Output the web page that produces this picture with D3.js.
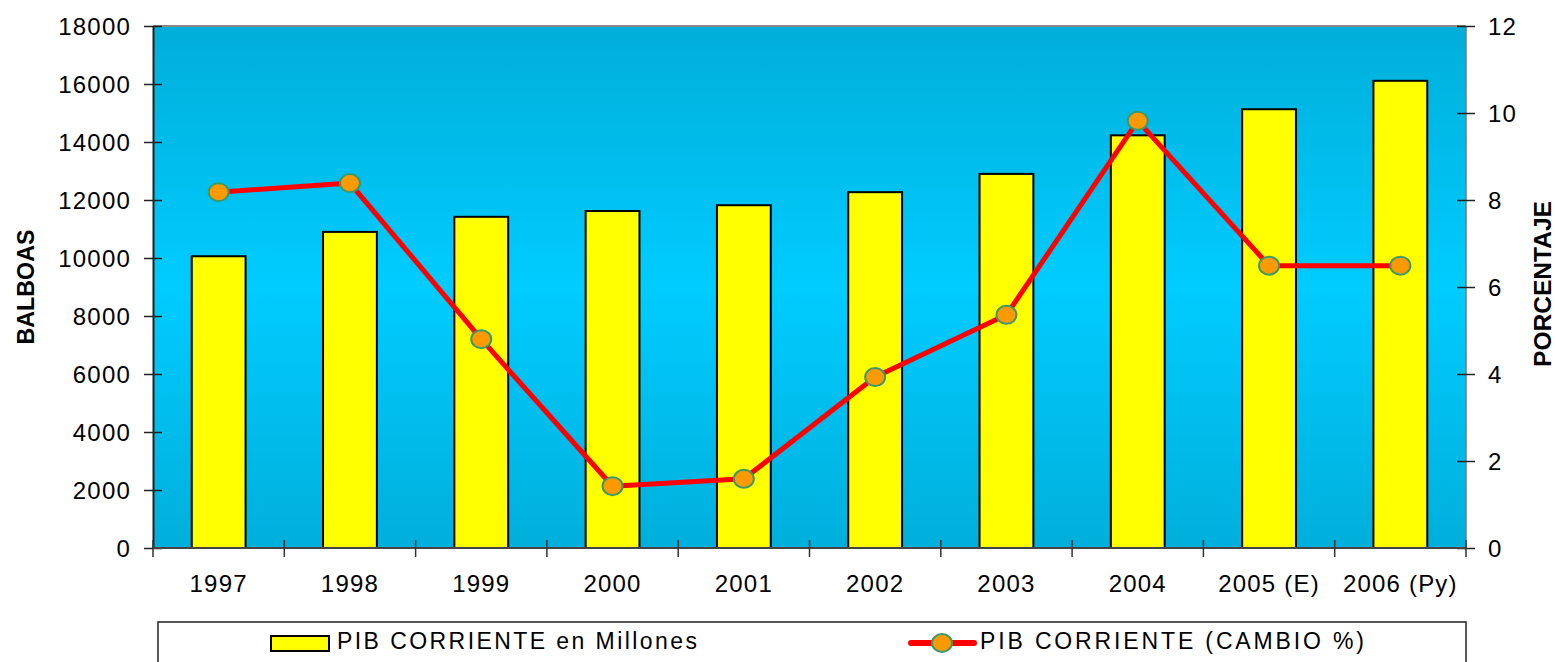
<!DOCTYPE html>
<html><head><meta charset="utf-8">
<script src="https://cdn.jsdelivr.net/npm/d3@7"></script>
<style>body{margin:0;background:#fff}svg{display:block}text{font-family:"Liberation Sans",Arial,sans-serif}</style>
</head><body><svg id="c" width="1555" height="662"></svg>
<script>
const categories = ["1997","1998","1999","2000","2001","2002","2003","2004","2005 (E)","2006 (Py)"];
const pibValues = [10060, 10900, 11420, 11620, 11820, 12270, 12900, 14230, 15130, 16110];
const pctValues = [8.18, 8.39, 4.80, 1.42, 1.59, 3.93, 5.36, 9.82, 6.49, 6.49];
const leftTicks = [0,2000,4000,6000,8000,10000,12000,14000,16000,18000];
const rightTicks = [0,2,4,6,8,10,12];
const barLabel = "PIB CORRIENTE en Millones";
const lineLabel = "PIB CORRIENTE (CAMBIO %)";

const svg = d3.select("#c");
const L=153, R=1466, T=26, B=548;
const x = d3.scaleBand().domain(categories).range([L,R]).paddingInner(0.59).paddingOuter(0.295);
const xb = d3.scaleBand().domain(categories).range([L,R]);
const yL = d3.scaleLinear().domain([0,18000]).range([B,T]);
const yR = d3.scaleLinear().domain([0,12]).range([B,T]);

const defs = svg.append("defs");
const g = defs.append("linearGradient").attr("id","bg").attr("x1",0).attr("y1",0).attr("x2",0).attr("y2",1);
g.append("stop").attr("offset","0%").attr("stop-color","#00aed9");
g.append("stop").attr("offset","50%").attr("stop-color","#00ccff");
g.append("stop").attr("offset","100%").attr("stop-color","#00afdb");
svg.append("rect").attr("x",L).attr("y",T).attr("width",R-L).attr("height",B-T).attr("fill","url(#bg)");

// bars
svg.selectAll("rect.bar").data(pibValues).join("rect").attr("class","bar")
  .attr("x",(d,i)=>x(categories[i])).attr("width",x.bandwidth())
  .attr("y",d=>yL(d)).attr("height",d=>B-yL(d))
  .attr("fill","#ffff00").attr("stroke","#000").attr("stroke-width",2);

// plot frame lines
svg.append("line").attr("x1",L).attr("x2",R).attr("y1",T).attr("y2",T).attr("stroke","#888").attr("stroke-width",2);
svg.append("line").attr("x1",R).attr("x2",R).attr("y1",T).attr("y2",B).attr("stroke","#777").attr("stroke-width",1.5);

// left axis
const axL = d3.axisLeft(yL).tickValues(leftTicks).tickFormat(d3.format("d")).tickSize(0).tickPadding(0);
const gL = svg.append("g").attr("transform",`translate(${L},0)`).call(axL);
gL.select(".domain").attr("stroke","#222").attr("stroke-width",2);
gL.selectAll(".tick line").remove();
gL.selectAll(".tick").append("line").attr("x1",-9).attr("x2",9).attr("stroke","#222").attr("stroke-width",1.5);
gL.selectAll(".tick text").attr("x",-22).attr("font-size",24).attr("fill","#000").style("letter-spacing","1.2px").attr("dy","0.34em");

// right axis
const axR = d3.axisRight(yR).tickValues(rightTicks).tickSize(0).tickPadding(0);
const gR = svg.append("g").attr("transform",`translate(${R},0)`).call(axR);
gR.select(".domain").remove();
gR.selectAll(".tick").append("line").attr("x1",-9).attr("x2",9).attr("stroke","#222").attr("stroke-width",1.5);
gR.selectAll(".tick text").attr("x",22).attr("font-size",24).attr("fill","#000").style("letter-spacing","1.2px").attr("dy","0.34em");

// bottom axis
svg.append("line").attr("x1",L).attr("x2",R).attr("y1",B).attr("y2",B).attr("stroke","#444").attr("stroke-width",2);
const bounds = categories.map(c=>xb(c)).concat([R]);
svg.selectAll("line.xt").data(bounds).join("line").attr("class","xt")
  .attr("x1",d=>d).attr("x2",d=>d).attr("y1",B-8).attr("y2",B+9).attr("stroke","#333").attr("stroke-width",1.5);
svg.selectAll("text.xl").data(categories).join("text").attr("class","xl")
  .attr("x",d=>xb(d)+xb.bandwidth()/2).attr("y",592).attr("text-anchor","middle")
  .attr("font-size",24).style("letter-spacing","1.2px").text(d=>d);

// line
const line = d3.line().x((d,i)=>x(categories[i])+x.bandwidth()/2).y(d=>yR(d));
svg.append("path").datum(pctValues).attr("d",line).attr("fill","none").attr("stroke","#ff0000").attr("stroke-width",5).attr("stroke-linejoin","round");
svg.selectAll("ellipse.pt").data(pctValues).join("ellipse").attr("class","pt")
  .attr("cx",(d,i)=>x(categories[i])+x.bandwidth()/2).attr("cy",d=>yR(d)).attr("rx",10).attr("ry",9)
  .attr("fill","#ff9900").attr("stroke","#3c9a6a").attr("stroke-width",2);

// axis titles
svg.append("text").attr("transform","translate(34,287) rotate(-90)").attr("text-anchor","middle")
  .attr("font-size",23.5).attr("font-weight","bold").attr("textLength",115).attr("lengthAdjust","spacingAndGlyphs").text("BALBOAS");
svg.append("text").attr("transform","translate(1551,284) rotate(-90)").attr("text-anchor","middle")
  .attr("font-size",23).attr("font-weight","bold").attr("textLength",166).attr("lengthAdjust","spacingAndGlyphs").text("PORCENTAJE");

// legend
svg.append("rect").attr("x",158).attr("y",622).attr("width",1308).attr("height",60).attr("fill","#fff").attr("stroke","#222").attr("stroke-width",1.5);
svg.append("rect").attr("x",271).attr("y",636).attr("width",58).attr("height",15).attr("fill","#ffff00").attr("stroke","#000").attr("stroke-width",2);
svg.append("text").attr("x",337).attr("y",649).attr("font-size",23).attr("textLength",360).attr("lengthAdjust","spacing").text(barLabel);
svg.append("line").attr("x1",911).attr("x2",974).attr("y1",643).attr("y2",643).attr("stroke","#ff0000").attr("stroke-width",6).attr("stroke-linecap","round");
svg.append("ellipse").attr("cx",942).attr("cy",643).attr("rx",10).attr("ry",9).attr("fill","#ff9900").attr("stroke","#3c9a6a").attr("stroke-width",2);
svg.append("text").attr("x",980).attr("y",649).attr("font-size",23).attr("textLength",384).attr("lengthAdjust","spacing").text(lineLabel);
</script></body></html>
